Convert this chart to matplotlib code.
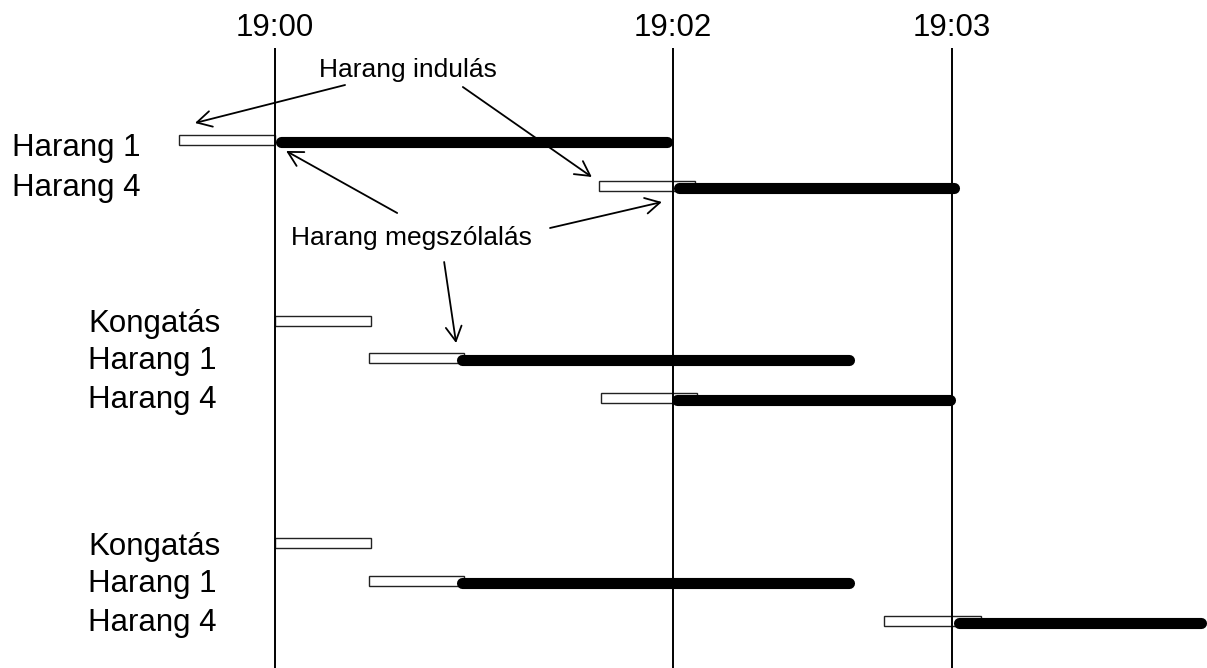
import matplotlib
matplotlib.use("Agg")
import matplotlib.pyplot as plt
import numpy as np

plt.rcParams["font.family"] = ["Liberation Sans", "DejaVu Sans"]

# time axis (schematic units, 19:00 = 0)
tick_pos = [0, 100, 170]
tick_labels = ["19:00", "19:02", "19:03"]

# one entry per bar row
row_labels = ["Harang 1", "Harang 4",
              "Kongatás", "Harang 1", "Harang 4",
              "Kongatás", "Harang 1", "Harang 4"]
start_from = [-24, 81.5, 0, 23.5, 82, 0, 23.5, 153]
start_to = [0, 105.5, 24, 47.5, 106, 24, 47.5, 177.5]
ring_from = [0, 100, np.nan, 45.5, 99.5, np.nan, 45.5, 170.5]
ring_to = [100, 172, np.nan, 145.5, 171, np.nan, 145.5, 234]

# layout (y in pixel-like units, top = 0)
row_y = [139.5, 185.5, 320.5, 357.5, 397.5, 543, 580.5, 620.5]
label_x = [-66, -66, -47, -47, -47, -47, -47, -47]
label_base = [156, 196, 332, 369, 408, 555, 592, 631]

# annotations: (text, x, baseline y, [(from_x, from_y, to_x, to_y), ...])
notes = [
    ("Harang indulás", 33.3, 77,
     [(17.6, 85, -20.1, 123), (47.2, 87, 79.6, 177)]),
    ("Harang megszólalás", 34.4, 245,
     [(30.7, 213, 2.8, 151), (69.1, 228, 97.2, 202), (42.5, 262, 45.5, 343)]),
]

W, H = 1207, 668
px_per_unit = 3.98
x0 = -275 / px_per_unit

fig = plt.figure(figsize=(W / 100, H / 100), dpi=100)
ax = fig.add_axes([0, 0, 1, 1])
ax.set_xlim(x0, x0 + W / px_per_unit)
ax.set_ylim(H, 0)
ax.axis("off")

# vertical time lines + labels
for t, lab in zip(tick_pos, tick_labels):
    ax.vlines(t, 48, H, color="black", lw=1.4, zorder=3)
    ax.text(t, 36, lab, ha="center", va="baseline", fontsize=22.5)

bar_h = 10
lw_thick = 8
cap = lw_thick / 72 * 100 / 2 / px_per_unit  # round cap radius in x units

for i in range(len(row_labels)):
    y = row_y[i]
    ax.barh(y, start_to[i] - start_from[i], left=start_from[i], height=bar_h,
            color="white", edgecolor="#222222", linewidth=1.0, zorder=2)
    if not np.isnan(ring_from[i]):
        ax.plot([ring_from[i] + cap, ring_to[i] - cap], [y + 2, y + 2],
                color="black", lw=lw_thick, solid_capstyle="round", zorder=4)
    ax.text(label_x[i], label_base[i], row_labels[i], ha="left",
            va="baseline", fontsize=22.5)

for txt, tx, ty, arrows in notes:
    ax.text(tx, ty, txt, ha="center", va="baseline", fontsize=19)
    for fx, fy, ex, ey in arrows:
        ax.annotate("", xy=(ex, ey), xytext=(fx, fy),
                    arrowprops=dict(arrowstyle="->,head_length=0.55,head_width=0.3",
                                    mutation_scale=19, color="black", lw=1.3,
                                    shrinkA=0, shrinkB=0),
                    zorder=5)

fig.savefig("out.png", dpi=100)
